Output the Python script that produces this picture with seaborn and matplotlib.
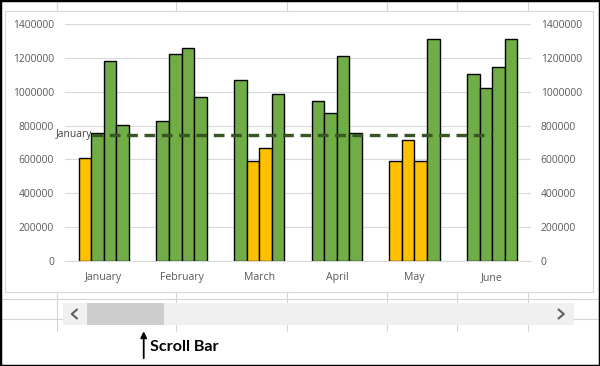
import numpy as np
import pandas as pd
import matplotlib
matplotlib.use("Agg")
import matplotlib.pyplot as plt
import seaborn as sns
from matplotlib.patches import Rectangle, FancyArrowPatch
from matplotlib.lines import Line2D

# ---------------- data ----------------
months = ["January", "February", "March", "April", "May", "June"]
series1 = [607000, 825000, 1067000, 947000, 593000, 1103000]
series2 = [758000, 1225000, 589000, 872000, 715000, 1024000]
series3 = [1181000, 1258000, 669000, 1213000, 593000, 1144000]
series4 = [801000, 971000, 987000, 758000, 1313000, 1309000]
target = 745000
target_label = "January"
yticks = [0, 200000, 400000, 600000, 800000, 1000000, 1200000, 1400000]

df = pd.DataFrame({
    "month": months * 4,
    "series": sum([[f"S{i}"] * len(months) for i in range(1, 5)], []),
    "value": series1 + series2 + series3 + series4,
})

YELLOW = "#FFC000"
GREEN = "#70AD47"
LINE = "#375623"
TXT = "#595959"

sns.set_style("white")
plt.rcParams["font.family"] = ["Open Sans", "DejaVu Sans"]

W, H = 600, 366
fig = plt.figure(figsize=(6, 3.66), dpi=100)

def fx(x):
    return x / W

def fy(y):
    return 1 - y / H

# excel cell grid behind
gcol = "#D4D4D4"
for x in [56.7, 175.5, 286.5, 386.5, 457, 528]:
    fig.add_artist(Line2D([fx(x), fx(x)], [fy(0), fy(331)], color=gcol, lw=0.8, zorder=-3))
for y in [299.2, 318.6]:
    fig.add_artist(Line2D([0, 1], [fy(y), fy(y)], color=gcol, lw=0.8, zorder=-3))

# chart box
fig.add_artist(Rectangle((fx(4.7), fy(291.7)), fx(592.7) - fx(4.7), fy(11) - fy(291.7),
                         facecolor="white", edgecolor="#D9D9D9", lw=0.8, zorder=-2))

# main axes
left, right, top, bottom = 65, 531, 24, 261
ax = fig.add_axes([fx(left), fy(bottom), fx(right) - fx(left), fy(top) - fy(bottom)])
ax.set_facecolor("none")

sns.barplot(data=df, x="month", y="value", hue="series", order=months,
            width=0.652, saturation=1, edgecolor="black", linewidth=1.0,
            legend=False, ax=ax, zorder=2)
for p in ax.patches:
    p.set_facecolor(YELLOW if p.get_height() < target else GREEN)

xpos = np.arange(len(months))
ax.plot([xpos[0] - 0.155, xpos[-1]], [target, target], color=LINE, lw=2.4,
        linestyle=(0, (3.2, 2.0)), zorder=4)
ax.text(xpos[0] - 0.155, target, target_label, ha="right", va="center",
        fontsize=7.4, color="#404040", zorder=5)

ax.set_ylim(0, 1400000)
ax.set_xlim(-0.5, len(months) - 0.5)
ax.set_yticks(yticks)
ax.set_yticklabels([str(v) for v in yticks])
ax.set_xlabel("")
ax.set_ylabel("")
ax.grid(axis="y", color="#D9D9D9", lw=0.8, zorder=0)
ax.set_axisbelow(True)
for s in ["top", "left", "right"]:
    ax.spines[s].set_visible(False)
ax.spines["bottom"].set_color("#D9D9D9")
ax.spines["bottom"].set_linewidth(0.8)
ax.tick_params(axis="y", length=0, pad=8, labelsize=7.4, labelcolor=TXT)
ax.tick_params(axis="x", length=0, pad=8, labelsize=7.6, labelcolor=TXT)

ax2 = ax.twinx()
ax2.set_ylim(ax.get_ylim())
ax2.set_yticks(yticks)
ax2.set_yticklabels([str(v) for v in yticks])
for s in ["top", "left", "right", "bottom"]:
    ax2.spines[s].set_visible(False)
ax2.tick_params(axis="y", length=0, pad=7, labelsize=7.4, labelcolor=TXT)

# scroll bar
fig.add_artist(Rectangle((fx(63.3), fy(324.5)), fx(573.6) - fx(63.3), fy(302.7) - fy(324.5),
                         facecolor="#F0F0F0", edgecolor="none", zorder=1))
fig.add_artist(Rectangle((fx(87), fy(324.5)), fx(163.7) - fx(87), fy(302.7) - fy(324.5),
                         facecolor="#CDCDCD", edgecolor="none", zorder=1))
fig.add_artist(Line2D([fx(77), fx(71.8), fx(77)], [fy(309.5), fy(314), fy(318.5)],
                      color="#606060", lw=1.5, zorder=2))
fig.add_artist(Line2D([fx(558.5), fx(563.8), fx(558.5)], [fy(309.5), fy(314), fy(318.5)],
                      color="#606060", lw=1.5, zorder=2))

# annotation arrow + text
fig.add_artist(FancyArrowPatch((fx(143.7), fy(361)), (fx(143.7), fy(328.5)),
                               transform=fig.transFigure, arrowstyle="-|>",
                               mutation_scale=9, lw=1.3, color="black", zorder=3))
fig.text(fx(149.5), fy(347), "Scroll Bar", ha="left", va="center", fontsize=11.6,
         fontweight="bold", color="black", family=["Lato", "DejaVu Sans"])

# outer border
fig.add_artist(Rectangle((0, 0), 1, 1, transform=fig.transFigure, fill=False,
                         edgecolor="black", lw=2.5, zorder=10))

fig.savefig("out.png", dpi=100)
